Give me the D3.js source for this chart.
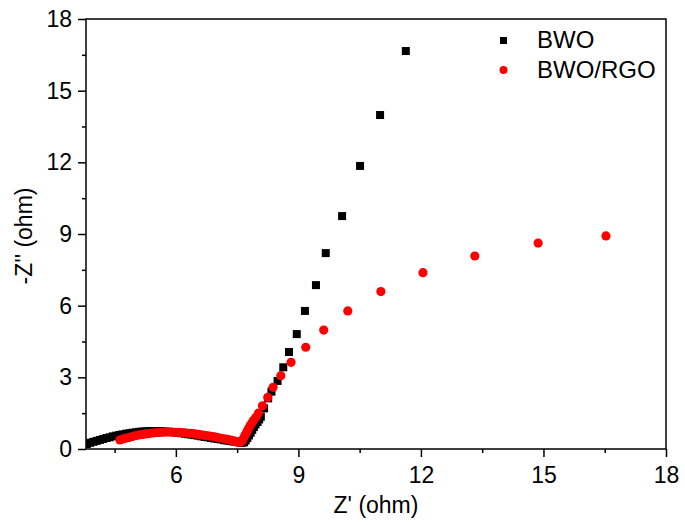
<!DOCTYPE html>
<html>
<head>
<meta charset="utf-8">
<script src="https://cdn.jsdelivr.net/npm/d3@7"></script>
<style>
  body { margin: 0; background: #fff; }
  text { font-family: "Liberation Sans", Arial, sans-serif; fill: #000; }
</style>
</head>
<body>
<script>
var W = 685, H = 525;
var margin = { left: 86, right: 19, top: 19, bottom: 76 };

// BWO (black squares)
var bwoX = [3.82, 3.90, 3.98, 4.06, 4.14, 4.22, 4.30, 4.38, 4.46, 4.54, 4.62, 4.70, 4.78, 4.86, 4.94,
            5.02, 5.10, 5.18, 5.26, 5.34, 5.42, 5.50, 5.58, 5.66, 5.74, 5.82, 5.90, 5.98, 6.06, 6.14,
            6.22, 6.30, 6.38, 6.46, 6.54, 6.62, 6.70, 6.78, 6.86, 6.94, 7.02, 7.10, 7.18, 7.26, 7.34,
            7.42, 7.50, 7.56, 7.62, 7.67, 7.71, 7.75, 7.79, 7.83, 7.87, 7.91, 7.95, 8.00, 8.04, 8.08,
            8.16, 8.26, 8.34, 8.49, 8.63, 8.77, 8.96, 9.16, 9.43, 9.67, 10.07, 10.51, 11.00, 11.63];
var bwoY = [0.21, 0.26, 0.30, 0.34, 0.38, 0.42, 0.46, 0.49, 0.53, 0.56, 0.59, 0.61, 0.64, 0.66, 0.68,
            0.70, 0.72, 0.73, 0.74, 0.75, 0.75, 0.75, 0.75, 0.74, 0.73, 0.72, 0.71, 0.69, 0.68, 0.66,
            0.64, 0.62, 0.60, 0.58, 0.56, 0.53, 0.51, 0.49, 0.46, 0.44, 0.42, 0.40, 0.37, 0.35, 0.33,
            0.31, 0.29, 0.27, 0.26, 0.28, 0.36, 0.46, 0.57, 0.68, 0.80, 0.92, 1.03, 1.13, 1.24, 1.35,
            1.70, 2.12, 2.40, 2.85, 3.42, 4.06, 4.81, 5.78, 6.86, 8.20, 9.75, 11.85, 13.98, 16.66];

// BWO/RGO (red circles)
var rgoX = [4.63, 4.71, 4.79, 4.87, 4.95, 5.03, 5.11, 5.19, 5.27, 5.35, 5.43, 5.51, 5.59, 5.67, 5.75,
            5.83, 5.91, 5.99, 6.07, 6.15, 6.23, 6.31, 6.39, 6.47, 6.55, 6.63, 6.71, 6.79, 6.87, 6.95,
            7.03, 7.11, 7.19, 7.27, 7.35, 7.42, 7.48, 7.53, 7.57, 7.60, 7.63, 7.66, 7.69, 7.72, 7.75,
            7.78, 7.82, 7.86, 7.90, 7.95, 8.02, 8.12, 8.25, 8.38, 8.57, 8.82, 9.18, 9.62, 10.21, 11.02,
            12.05, 13.32, 14.87, 16.53];
var rgoY = [0.38, 0.42, 0.46, 0.49, 0.53, 0.56, 0.59, 0.61, 0.63, 0.65, 0.67, 0.68, 0.69, 0.70, 0.71,
            0.71, 0.71, 0.70, 0.70, 0.69, 0.68, 0.66, 0.65, 0.63, 0.61, 0.59, 0.57, 0.55, 0.53, 0.51,
            0.48, 0.45, 0.43, 0.40, 0.37, 0.34, 0.31, 0.29, 0.28, 0.30, 0.37, 0.46, 0.56, 0.66, 0.76,
            0.86, 0.98, 1.09, 1.19, 1.31, 1.50, 1.81, 2.16, 2.58, 3.07, 3.63, 4.26, 4.98, 5.78, 6.59,
            7.38, 8.08, 8.62, 8.92];

var xTicks = [6, 9, 12, 15, 18];
var yTicks = [0, 3, 6, 9, 12, 15, 18];
var xMinor = [4.5, 7.5, 10.5, 13.5, 16.5];
var yMinor = [1.5, 4.5, 7.5, 10.5, 13.5, 16.5];
var seriesNames = ["BWO", "BWO/RGO"];

var x = d3.scaleLinear().domain([3.8, 18]).range([margin.left, W - margin.right]);
var y = d3.scaleLinear().domain([0, 18]).range([H - margin.bottom, margin.top]);

var svg = d3.select("body").append("svg")
  .attr("width", W)
  .attr("height", H);

svg.append("defs").append("clipPath").attr("id", "clip")
  .append("rect")
  .attr("x", margin.left).attr("y", margin.top)
  .attr("width", W - margin.left - margin.right)
  .attr("height", H - margin.top - margin.bottom);

var plot = svg.append("g").attr("clip-path", "url(#clip)");

var bwo = bwoX.map(function(d, i) { return [d, bwoY[i]]; });
var rgo = rgoX.map(function(d, i) { return [d, rgoY[i]]; });

var sq = 8;
plot.selectAll("rect.bwo").data(bwo).enter().append("rect")
  .attr("class", "bwo")
  .attr("x", function(d) { return x(d[0]) - sq / 2; })
  .attr("y", function(d) { return y(d[1]) - sq / 2; })
  .attr("width", sq).attr("height", sq)
  .style("fill", "#000");

plot.selectAll("circle.rgo").data(rgo).enter().append("circle")
  .attr("class", "rgo")
  .attr("cx", function(d) { return x(d[0]); })
  .attr("cy", function(d) { return y(d[1]); })
  .attr("r", 4.6)
  .style("fill", "#f00");

// frame
svg.append("rect")
  .attr("x", margin.left).attr("y", margin.top)
  .attr("width", W - margin.left - margin.right)
  .attr("height", H - margin.top - margin.bottom)
  .style("fill", "none").style("stroke", "#000").style("stroke-width", 1.5);

// axes
svg.append("g").attr("transform", "translate(0," + (H - margin.bottom) + ")")
  .call(d3.axisBottom(x).tickValues(xTicks).tickSize(8).tickPadding(10));
svg.append("g").attr("transform", "translate(0," + (H - margin.bottom) + ")")
  .call(d3.axisBottom(x).tickValues(xMinor).tickSize(4).tickFormat(""));
svg.append("g").attr("transform", "translate(" + margin.left + ",0)")
  .call(d3.axisLeft(y).tickValues(yTicks).tickSize(8).tickPadding(6));
svg.append("g").attr("transform", "translate(" + margin.left + ",0)")
  .call(d3.axisLeft(y).tickValues(yMinor).tickSize(4).tickFormat(""));

svg.selectAll(".domain").remove();
svg.selectAll(".tick line").style("stroke", "#000").style("stroke-width", 1.5);
svg.selectAll(".tick text").style("font-size", "23px")
  .style("font-family", "'Liberation Sans', Arial, sans-serif");

svg.append("text")
  .attr("x", (margin.left + W - margin.right) / 2)
  .attr("y", 513)
  .attr("text-anchor", "middle")
  .style("font-size", "23px")
  .text("Z' (ohm)");

svg.append("text")
  .attr("transform", "translate(32," + 236 + ") rotate(-90)")
  .attr("text-anchor", "middle")
  .style("font-size", "23px")
  .text("-Z'' (ohm)");

// legend
var legend = svg.append("g");
legend.append("rect").attr("x", 500).attr("y", 37).attr("width", 7).attr("height", 7).style("fill", "#000");
legend.append("circle").attr("cx", 503.5).attr("cy", 70).attr("r", 4).style("fill", "#f00");
legend.selectAll("text").data(seriesNames).enter().append("text")
  .attr("x", 537)
  .attr("y", function(d, i) { return 48 + i * 30; })
  .style("font-size", "24px")
  .text(function(d) { return d; });
</script>
</body>
</html>
